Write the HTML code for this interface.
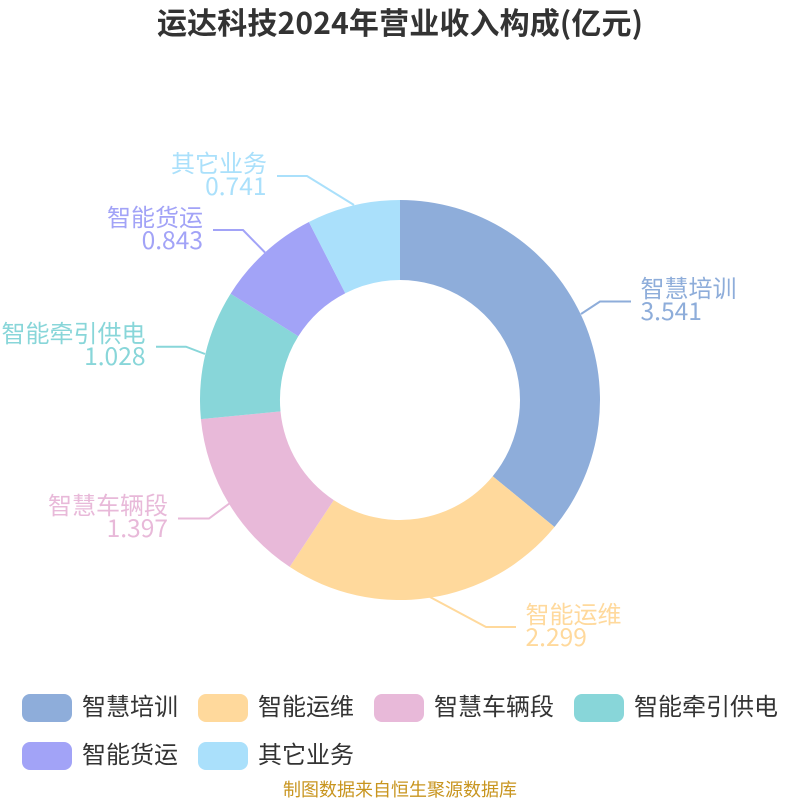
<!DOCTYPE html>
<html><head><meta charset="utf-8">
<style>
html,body{margin:0;padding:0;background:#fff}
svg{display:block}
text{font-family:"Noto Sans CJK SC",sans-serif}
.l{font-size:24px;font-weight:400}
.n{font-size:24.6px;font-weight:400}
.g{font-size:24px;fill:#333;font-weight:400}
</style></head>
<body>
<svg width="800" height="800" viewBox="0 0 800 800" xmlns="http://www.w3.org/2000/svg">
<rect width="800" height="800" fill="#fff"/>
<text x="400" y="34" text-anchor="middle" font-size="30" font-weight="700" fill="#333" textLength="486">运达科技2024年营业收入构成(亿元)</text>

<g fill="none" stroke-width="2">
<polyline points="581,314 600,301.5 631,301.5" stroke="#8eadda"/>
<polyline points="430,597 486,627 516,627" stroke="#ffd99c"/>
<polyline points="230,503 209,518.5 178,518.5" stroke="#e8b9d9"/>
<polyline points="205,354 186,346.7 156,346.7" stroke="#88d6d9"/>
<polyline points="265,252.5 243,230 213,230" stroke="#a2a3f7"/>
<polyline points="354,205 307,176 277,176" stroke="#aae0fb"/>
</g>

<path d="M400,200A200,200 0 0 1 554.5,527L492.7,476.2A120,120 0 0 0 400,280Z" fill="#8eadda"/>
<path d="M554.5,527A200,200 0 0 1 289.7,566.9L333.8,500.1A120,120 0 0 0 492.7,476.2Z" fill="#ffd99c"/>
<path d="M289.7,566.9A200,200 0 0 1 200.9,419.1L280.5,411.4A120,120 0 0 0 333.8,500.1Z" fill="#e8b9d9"/>
<path d="M200.9,419.1A200,200 0 0 1 230.6,293.7L298.3,336.2A120,120 0 0 0 280.5,411.4Z" fill="#88d6d9"/>
<path d="M230.6,293.7A200,200 0 0 1 308.9,222L345.3,293.2A120,120 0 0 0 298.3,336.2Z" fill="#a2a3f7"/>
<path d="M308.9,222A200,200 0 0 1 400,200L400,280A120,120 0 0 0 345.3,293.2Z" fill="#aae0fb"/>

<text class="l" x="640.5" y="297" fill="#8eadda">智慧培训</text>
<text class="n" x="640.5" y="320" fill="#8eadda">3.541</text>
<text class="l" x="525.5" y="623" fill="#ffd99c">智能运维</text>
<text class="n" x="525.5" y="646" fill="#ffd99c">2.299</text>
<text class="l" x="168" y="514" text-anchor="end" fill="#e8b9d9">智慧车辆段</text>
<text class="n" x="168" y="537" text-anchor="end" fill="#e8b9d9">1.397</text>
<text class="l" x="145.5" y="342" text-anchor="end" fill="#88d6d9">智能牵引供电</text>
<text class="n" x="145.5" y="365" text-anchor="end" fill="#88d6d9">1.028</text>
<text class="l" x="203" y="226" text-anchor="end" fill="#a2a3f7">智能货运</text>
<text class="n" x="203" y="249" text-anchor="end" fill="#a2a3f7">0.843</text>
<text class="l" x="267" y="172" text-anchor="end" fill="#aae0fb">其它业务</text>
<text class="n" x="266.5" y="195" text-anchor="end" fill="#aae0fb">0.741</text>

<rect x="22" y="694" width="50" height="28" rx="8" fill="#8eadda"/>
<text class="g" x="82" y="715">智慧培训</text>
<rect x="198" y="694" width="50" height="28" rx="8" fill="#ffd99c"/>
<text class="g" x="258" y="715">智能运维</text>
<rect x="374" y="694" width="50" height="28" rx="8" fill="#e8b9d9"/>
<text class="g" x="434" y="715">智慧车辆段</text>
<rect x="574" y="694" width="50" height="28" rx="8" fill="#88d6d9"/>
<text class="g" x="634" y="715">智能牵引供电</text>
<rect x="22" y="742" width="50" height="28" rx="8" fill="#a2a3f7"/>
<text class="g" x="82" y="763">智能货运</text>
<rect x="198" y="742" width="50" height="28" rx="8" fill="#aae0fb"/>
<text class="g" x="258" y="763">其它业务</text>

<text x="400" y="796" text-anchor="middle" font-size="18" fill="#c8951f" font-weight="400">制图数据来自恒生聚源数据库</text>
</svg>
</body></html>
